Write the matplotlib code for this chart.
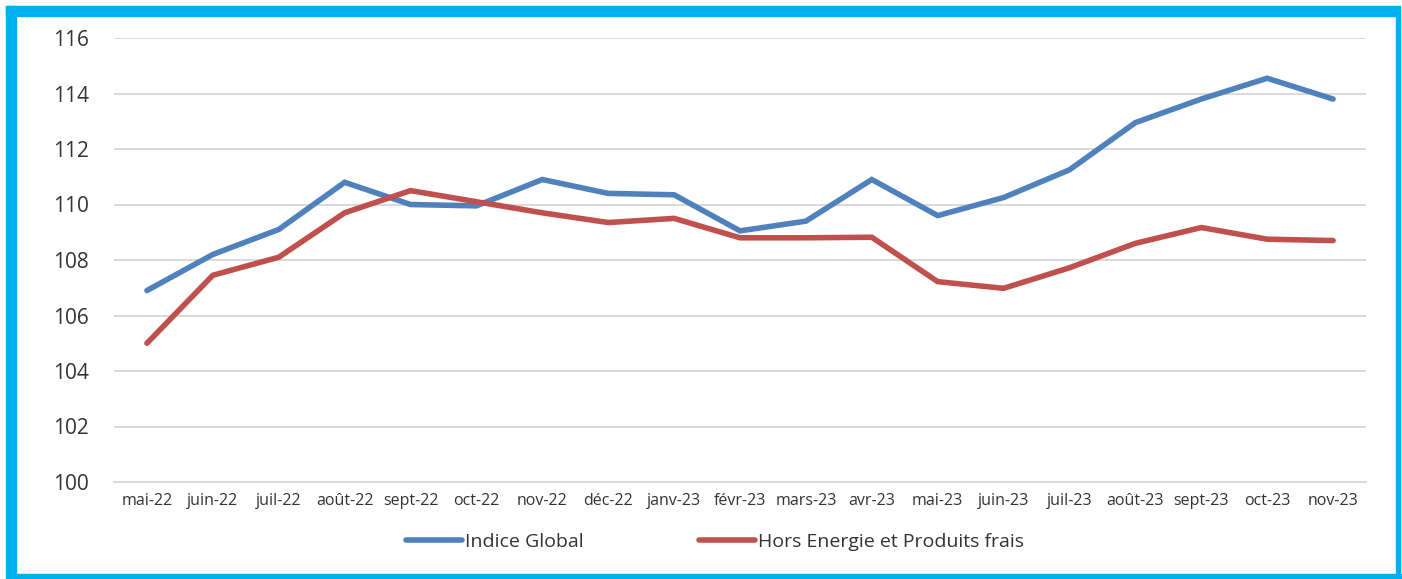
import matplotlib
matplotlib.use("Agg")
import matplotlib.pyplot as plt
from matplotlib.patches import Rectangle

months = ["mai-22", "juin-22", "juil-22", "août-22", "sept-22", "oct-22", "nov-22",
          "déc-22", "janv-23", "févr-23", "mars-23", "avr-23", "mai-23", "juin-23",
          "juil-23", "août-23", "sept-23", "oct-23", "nov-23"]
indice_global = [106.9, 108.2, 109.1, 110.8, 110.0, 109.95, 110.9, 110.4, 110.35, 109.05,
                 109.4, 110.9, 109.6, 110.25, 111.25, 112.95, 113.8, 114.55, 113.8]
hors_energie = [105.0, 107.45, 108.1, 109.7, 110.5, 110.1, 109.7, 109.35, 109.5, 108.8,
                108.8, 108.82, 107.22, 106.98, 107.72, 108.6, 109.17, 108.75, 108.7]
y_ticks = [100, 102, 104, 106, 108, 110, 112, 114, 116]
series_names = ["Indice Global", "Hors Energie et Produits frais"]

plt.rcParams['font.family'] = ['Open Sans', 'DejaVu Sans']

W, H = 1402, 579
fig = plt.figure(figsize=(W / 100, H / 100), dpi=100)
ax = fig.add_axes([114 / W, (H - 482) / H, (1366 - 114) / W, (482 - 38) / H])

x = list(range(len(months)))
ax.plot(x, indice_global, color="#4F81BD", lw=4.0, solid_capstyle="round",
        solid_joinstyle="miter", label=series_names[0], zorder=3)
ax.plot(x, hors_energie, color="#C0504D", lw=4.0, solid_capstyle="round",
        solid_joinstyle="miter", label=series_names[1], zorder=3)

ax.set_xlim(-0.5, len(months) - 0.5)
ax.set_ylim(100, 116)
ax.set_yticks(y_ticks)
ax.set_yticklabels([str(v) for v in y_ticks], fontsize=15, color="#333333")
ax.set_xticks(x)
ax.set_xticklabels(months, fontsize=11.5, color="#333333")
ax.tick_params(axis="both", length=0)
ax.tick_params(axis="y", pad=18)
ax.tick_params(axis="x", pad=8)
ax.grid(axis="y", color="#D9D9D9", lw=1.4)
ax.set_axisbelow(True)
for s in ["top", "right", "left"]:
    ax.spines[s].set_visible(False)
ax.spines["bottom"].set_color("#D9D9D9")
ax.spines["bottom"].set_linewidth(1.4)

fig.legend(loc="center", bbox_to_anchor=(715 / W, (H - 542) / H), ncol=2, frameon=False,
           fontsize=14, handlelength=2.9, handletextpad=0.15, columnspacing=5.9,
           labelcolor="#333333")

# border frame
c = "#00B0F0"
fig.patches.append(Rectangle((6 / W, 6 / H), 10 / W, (H - 12) / H, transform=fig.transFigure, color=c))
fig.patches.append(Rectangle((6 / W, (H - 16) / H), (W - 12) / W, 10 / H, transform=fig.transFigure, color=c))
fig.patches.append(Rectangle(((W - 6) / W, 6 / H), 4 / W, (H - 12) / H, transform=fig.transFigure, color=c))
fig.patches.append(Rectangle((6 / W, 0), (W - 6) / W, 5 / H, transform=fig.transFigure, color=c))

fig.savefig("out.png", dpi=100)
